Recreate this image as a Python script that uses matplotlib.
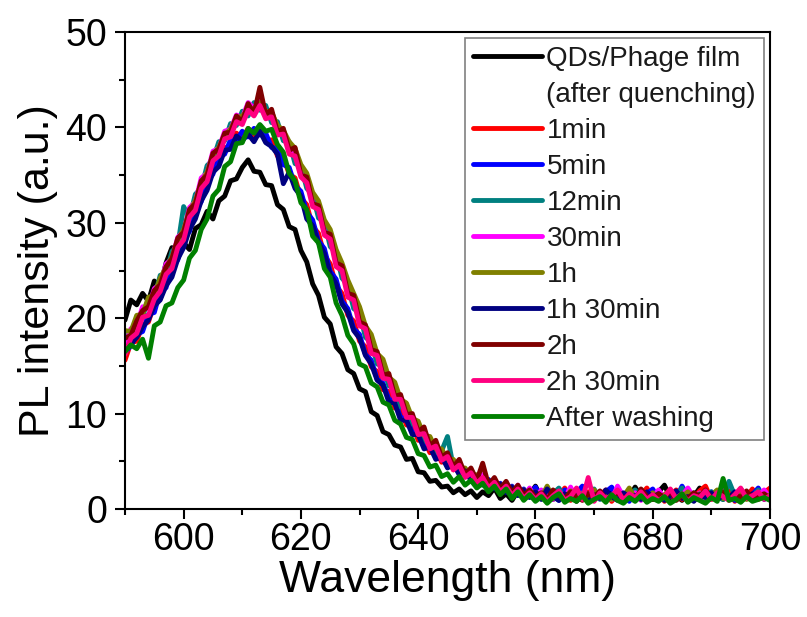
import matplotlib
matplotlib.use("Agg")
import matplotlib.pyplot as plt
from matplotlib.lines import Line2D
from matplotlib.ticker import MultipleLocator
import numpy as np

plt.rcParams["font.family"] = ["Liberation Sans", "DejaVu Sans"]

# ===============================
# DATOS (paso de 1 nm)
# ===============================
wavelength = np.arange(590, 701)

qd_film = [
    19.8, 21.9, 21.4, 22.6, 21.8, 23.9, 23.2, 25.8, 27.4, 26.3,
    27.9, 27.2, 29.4, 29.8, 31.2, 30.4, 32.3, 32.8, 34.4, 34.6,
    35.8, 36.6, 35.4, 35.3, 34.0, 33.9, 31.9, 31.4, 29.6, 29.3,
    27.1, 25.9, 23.6, 22.4, 20.1, 19.4, 17.0, 16.3, 14.6, 14.2,
    12.6, 12.3, 10.2, 9.8, 8.1, 7.8, 6.7, 6.5, 5.2, 5.3,
    3.9, 3.8, 2.9, 3.0, 2.3, 2.4, 1.7, 2.1, 1.5, 1.9,
    1.2, 1.8, 1.4, 2.2, 1.1, 1.6, 0.9, 1.9, 1.3, 1.5,
    2.4, 1.2, 1.7, 1.0, 2.1, 1.3, 1.8, 0.8, 1.6, 1.2,
    1.9, 1.1, 1.4, 2.0, 1.0, 1.5, 1.2, 2.3, 1.3, 1.7,
    1.0, 1.8, 2.5, 1.2, 1.4, 0.9, 1.7, 1.3, 2.2, 1.1,
    1.5, 1.9, 1.0, 1.6, 1.3, 2.1, 1.2, 1.8, 1.4, 1.6,
    1.3]

t_1min = [
    15.6, 17.4, 17.6, 19.3, 19.6, 21.5, 22.0, 23.9, 24.6, 27.0,
    27.6, 29.9, 30.6, 32.9, 33.7, 35.8, 36.2, 37.9, 37.8, 39.4,
    38.8, 39.9, 38.7, 40.1, 38.6, 38.7, 37.0, 36.9, 35.1, 34.7,
    32.6, 31.9, 29.6, 28.9, 26.6, 25.7, 23.4, 22.6, 20.3, 19.7,
    17.6, 17.0, 14.9, 14.4, 12.5, 12.3, 10.6, 10.4, 8.8, 8.8,
    7.2, 7.3, 5.9, 6.2, 4.9, 5.3, 4.1, 4.5, 3.4, 3.9,
    2.8, 3.4, 2.4, 3.0, 2.0, 2.6, 1.6, 2.3, 1.4, 2.1,
    1.2, 1.9, 1.0, 1.7, 1.3, 2.2, 0.9, 1.5, 1.1, 1.8,
    1.0, 1.4, 2.0, 0.8, 1.6, 1.2, 1.9, 0.9, 1.5, 2.2,
    1.1, 1.7, 0.8, 1.4, 2.0, 1.0, 1.6, 1.2, 1.9, 2.4,
    1.0, 1.5, 1.2, 1.9, 0.8, 1.6, 1.3, 2.1, 1.0, 1.7,
    2.2]

t_5min = [
    16.4, 17.1, 18.3, 18.6, 20.4, 20.6, 22.8, 23.2, 25.4, 26.1,
    28.3, 29.1, 31.4, 32.2, 34.3, 35.1, 36.9, 37.2, 38.7, 38.6,
    39.6, 39.0, 39.9, 39.2, 39.4, 37.9, 37.8, 36.1, 35.8, 33.9,
    33.3, 31.1, 30.3, 28.1, 27.3, 24.9, 24.1, 21.8, 21.0, 18.9,
    18.3, 16.2, 15.6, 13.6, 13.2, 11.5, 11.3, 9.6, 9.5, 8.0,
    7.9, 6.5, 6.6, 5.4, 5.6, 4.5, 4.8, 3.7, 4.1, 3.1,
    3.5, 2.6, 3.1, 2.2, 2.7, 1.8, 2.4, 1.5, 2.1, 1.3,
    2.3, 1.1, 1.8, 1.4, 0.9, 2.0, 1.2, 1.7, 2.4, 1.0,
    1.5, 1.2, 1.8, 2.3, 1.0, 1.4, 0.8, 1.9, 1.3, 1.6,
    2.1, 1.0, 1.4, 1.8, 1.1, 2.4, 1.3, 0.9, 1.6, 1.2,
    1.8, 1.1, 2.0, 1.4, 0.9, 1.7, 1.2, 1.5, 2.2, 1.0,
    1.4]

t_12min = [
    18.2, 18.0, 19.9, 20.2, 22.0, 22.1, 24.5, 24.6, 27.0, 27.6,
    31.7, 30.5, 33.0, 33.6, 36.0, 36.6, 38.5, 38.6, 40.4, 40.2,
    41.7, 41.2, 42.6, 41.8, 42.3, 40.5, 40.6, 38.6, 38.5, 36.2,
    36.0, 33.6, 33.0, 30.5, 30.1, 27.5, 26.9, 24.2, 23.5, 21.0,
    20.6, 18.0, 17.5, 15.2, 15.0, 12.9, 12.8, 10.7, 10.7, 8.9,
    8.9, 7.1, 7.3, 5.9, 6.1, 7.6, 4.4, 4.7, 3.6, 4.1,
    3.0, 3.4, 2.5, 3.1, 2.1, 2.7, 1.7, 2.3, 1.5, 2.1,
    1.3, 1.9, 1.1, 1.6, 2.2, 1.0, 1.5, 1.9, 1.2, 1.4,
    2.1, 1.0, 1.6, 1.3, 1.8, 0.9, 1.4, 2.0, 1.1, 1.5,
    1.2, 1.9, 1.0, 1.6, 1.3, 2.2, 1.1, 1.7, 1.0, 1.4,
    1.8, 1.2, 1.0, 2.9, 1.4, 1.1, 1.7, 1.3, 2.0, 1.2,
    1.6]

t_30min = [
    17.0, 18.9, 19.3, 21.2, 21.0, 23.1, 23.6, 25.7, 26.2, 28.5,
    29.1, 31.6, 32.2, 34.7, 35.2, 37.5, 37.8, 39.6, 39.8, 41.3,
    41.0, 42.6, 42.0, 43.1, 41.6, 41.6, 39.7, 39.6, 37.6, 37.4,
    35.1, 34.6, 32.1, 31.6, 29.1, 28.6, 25.9, 25.3, 22.6, 22.1,
    19.6, 19.1, 16.6, 16.3, 14.1, 13.8, 11.8, 11.7, 9.8, 9.8,
    8.0, 8.1, 6.5, 6.8, 5.3, 5.7, 4.3, 4.8, 3.5, 4.1,
    2.9, 3.6, 2.4, 3.1, 2.0, 2.8, 1.6, 2.5, 1.3, 2.2,
    1.1, 2.0, 1.4, 1.0, 1.8, 1.2, 2.3, 1.0, 1.5, 1.3,
    1.9, 1.1, 1.6, 1.0, 2.4, 1.3, 1.2, 1.7, 0.9, 1.5,
    1.3, 2.0, 1.1, 1.6, 1.0, 1.4, 2.2, 1.2, 1.7, 0.9,
    1.5, 1.3, 2.1, 1.0, 1.6, 1.2, 1.8, 1.1, 1.4, 2.0,
    1.2]

t_1h = [
    18.7, 18.6, 20.3, 20.4, 22.2, 22.4, 24.2, 25.3, 26.4, 28.2,
    29.3, 31.2, 32.3, 34.2, 35.3, 37.1, 37.9, 39.2, 39.8, 41.0,
    41.2, 41.9, 42.0, 42.6, 41.7, 41.6, 40.2, 39.7, 38.5, 37.8,
    36.1, 35.2, 33.2, 32.3, 30.3, 29.3, 27.2, 25.8, 24.0, 22.6,
    21.2, 19.2, 18.3, 16.3, 15.7, 13.8, 13.3, 11.5, 11.1, 9.5,
    9.2, 7.7, 7.6, 6.3, 6.3, 5.1, 5.2, 4.2, 4.3, 3.4,
    3.6, 2.8, 3.0, 2.3, 2.6, 1.9, 2.3, 1.6, 2.0, 1.4,
    1.8, 1.2, 2.4, 1.1, 1.5, 1.0, 1.9, 1.3, 1.6, 1.0,
    2.0, 1.2, 1.5, 1.0, 1.8, 1.3, 2.2, 1.1, 1.4, 1.2,
    1.7, 1.0, 1.5, 2.0, 1.1, 1.3, 1.8, 0.9, 1.6, 1.2,
    1.4, 2.0, 1.1, 1.5, 1.2, 1.9, 1.0, 1.3, 1.7, 1.1,
    1.5]

t_1h30 = [
    16.8, 17.3, 18.0, 19.1, 19.8, 21.3, 21.9, 23.4, 24.3, 26.2,
    27.4, 29.3, 30.4, 32.3, 33.4, 35.3, 35.9, 37.6, 37.7, 39.1,
    38.6, 39.3, 38.5, 39.6, 38.4, 38.0, 37.2, 34.1, 35.3, 33.6,
    32.8, 30.4, 29.7, 27.9, 26.8, 24.6, 23.6, 21.5, 20.6, 18.7,
    17.9, 16.1, 15.2, 13.5, 13.0, 11.2, 11.1, 9.3, 9.3, 7.8,
    7.8, 6.3, 6.5, 5.2, 5.5, 4.3, 4.7, 3.6, 4.0, 3.0,
    3.4, 2.5, 3.0, 2.1, 2.6, 1.7, 2.3, 1.4, 2.0, 1.2,
    1.8, 1.0, 2.1, 1.3, 0.9, 1.6, 1.1, 1.9, 1.2, 0.8,
    1.5, 1.1, 2.0, 1.3, 0.9, 1.7, 1.2, 1.4, 1.0, 1.8,
    1.2, 1.6, 0.9, 1.4, 1.9, 1.1, 1.3, 0.8, 1.5, 1.2,
    1.7, 1.0, 1.4, 1.2, 1.8, 0.9, 1.3, 1.6, 1.1, 1.4,
    1.0]

t_2h = [
    17.9, 18.2, 19.7, 20.8, 21.2, 22.9, 23.5, 25.4, 26.2, 28.4,
    29.0, 31.4, 32.0, 34.4, 35.0, 37.3, 37.7, 39.4, 39.5, 41.2,
    40.6, 42.5, 41.4, 44.2, 41.3, 41.9, 39.5, 39.9, 37.6, 37.9,
    35.0, 34.8, 32.0, 31.8, 29.0, 28.8, 25.8, 25.5, 22.6, 22.4,
    19.6, 19.3, 16.7, 16.5, 14.0, 14.2, 11.8, 12.0, 9.9, 10.0,
    8.1, 8.6, 6.6, 7.2, 5.4, 5.9, 4.4, 5.2, 3.6, 4.3,
    3.0, 4.8, 2.5, 3.3, 2.1, 2.9, 1.7, 2.5, 1.4, 2.0,
    1.2, 1.7, 1.0, 2.0, 1.4, 1.1, 1.8, 1.3, 0.9, 1.6,
    1.2, 1.9, 1.0, 1.4, 1.7, 1.1, 1.5, 0.9, 2.1, 1.3,
    1.0, 1.6, 1.2, 1.9, 0.9, 1.4, 1.1, 1.7, 1.3, 2.0,
    1.1, 1.4, 1.8, 1.0, 1.5, 1.2, 1.9, 1.0, 1.3, 1.6,
    1.1]

t_2h30 = [
    16.2, 17.9, 18.4, 20.1, 20.3, 22.0, 22.8, 24.6, 25.2, 27.4,
    28.2, 30.6, 31.3, 33.6, 34.3, 36.5, 37.0, 38.8, 39.0, 40.6,
    40.3, 41.8, 41.2, 42.3, 40.9, 41.1, 39.2, 39.3, 37.2, 37.0,
    34.8, 34.2, 31.7, 31.4, 28.7, 28.3, 25.4, 25.0, 22.2, 21.9,
    19.2, 18.9, 16.3, 16.1, 13.7, 13.6, 11.5, 11.5, 9.6, 9.6,
    7.8, 7.9, 6.3, 6.6, 5.1, 5.5, 4.1, 4.6, 3.3, 3.8,
    2.7, 3.3, 2.2, 2.8, 1.8, 2.4, 1.4, 2.1, 1.1, 1.7,
    1.0, 1.6, 0.8, 1.4, 1.9, 0.9, 1.3, 2.2, 1.0, 3.3,
    0.8, 1.7, 1.1, 1.4, 2.0, 0.9, 1.6, 1.2, 1.8, 1.0,
    1.5, 0.9, 1.3, 2.1, 1.1, 1.6, 0.8, 1.4, 1.2, 1.9,
    1.0, 1.7, 1.3, 0.9, 1.5, 2.2, 1.1, 1.4, 1.8, 1.0,
    1.4]

after_wash = [
    16.5, 17.2, 16.8, 17.8, 15.8, 19.2, 19.6, 21.3, 21.6, 23.2,
    24.0, 26.3, 27.1, 29.3, 30.4, 32.8, 33.5, 35.9, 36.4, 38.3,
    38.4, 39.9, 39.4, 40.3, 39.6, 39.8, 38.2, 37.4, 35.2, 34.4,
    32.1, 31.4, 28.6, 27.9, 25.2, 24.3, 21.6, 20.3, 18.2, 17.3,
    15.2, 14.9, 13.2, 12.8, 11.2, 10.9, 9.3, 8.9, 7.5, 7.3,
    5.8, 5.6, 4.4, 4.6, 3.4, 3.7, 2.8, 3.4, 2.5, 3.0,
    2.2, 2.7, 1.8, 2.4, 1.5, 2.1, 1.1, 1.8, 0.9, 1.5,
    0.8, 1.3, 0.6, 1.2, 1.6, 0.7, 1.1, 0.8, 1.4, 0.6,
    1.0, 1.3, 0.7, 1.5, 0.9, 0.6, 1.2, 0.8, 1.4, 0.7,
    1.1, 0.8, 1.3, 0.6, 1.0, 1.6, 0.7, 1.2, 0.9, 0.6,
    1.2, 0.8, 3.2, 0.9, 1.1, 0.7, 1.3, 0.8, 1.0, 1.2,
    0.9]

labels = ["QDs/Phage film", "1min", "5min", "12min", "30min", "1h",
          "1h 30min", "2h", "2h 30min", "After washing"]
colors = ["#000000", "#FF0000", "#0000FF", "#008080", "#FF00FF", "#808000",
          "#000080", "#800000", "#FF0080", "#008000"]
spectra = [qd_film, t_1min, t_5min, t_12min, t_30min, t_1h,
           t_1h30, t_2h, t_2h30, after_wash]

# ===============================
# FIGURA
# ===============================
fig = plt.figure(figsize=(8.07, 6.17), dpi=100)
ax = fig.add_axes([125 / 807, 1 - 509 / 617, 645 / 807, 477 / 617])

for lab, vals, col in zip(labels, spectra, colors):
    ax.plot(wavelength, vals, color=col, lw=3.5, label=lab,
            solid_joinstyle="round", solid_capstyle="round")

ax.set_xlim(590, 700)
ax.set_ylim(0, 50)
ax.xaxis.set_major_locator(MultipleLocator(20))
ax.xaxis.set_minor_locator(MultipleLocator(10))
ax.yaxis.set_major_locator(MultipleLocator(10))
ax.yaxis.set_minor_locator(MultipleLocator(5))
ax.tick_params(which="both", direction="out", width=1.5, top=False, right=False)
ax.tick_params(which="major", length=7, labelsize=27)
ax.tick_params(which="minor", length=4.5)
ax.tick_params(axis="x", which="major", pad=2)
ax.tick_params(axis="y", which="major", pad=6)
for sp in ax.spines.values():
    sp.set_linewidth(1.5)

ax.set_xlabel("Wavelength (nm)", fontsize=32, labelpad=2)
ax.set_ylabel("PL intensity (a.u.)", fontsize=31, labelpad=5)

# leyenda: la etiqueta de dos líneas va como entrada aparte sin trazo
handles, labs = ax.get_legend_handles_labels()
handles.insert(1, Line2D([], [], color="none"))
labs.insert(1, "(after quenching)")
leg = ax.legend(handles, labs, loc="upper right", fontsize=20,
                frameon=True, fancybox=False, framealpha=1,
                edgecolor="#808080", borderaxespad=0.2, borderpad=0.3,
                labelspacing=0.36, handlelength=2.5, handletextpad=0.15)
leg.get_frame().set_linewidth(1.2)
for t in leg.get_texts():
    t.set_color("#1a1a1a")

fig.savefig("out.png", dpi=100)
